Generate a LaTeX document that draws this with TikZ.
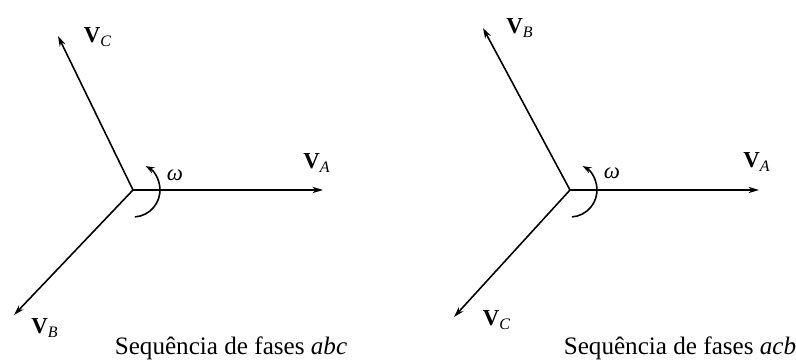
\documentclass[tikz,border=0pt]{standalone}
\usepackage{fontspec}
\setmainfont{Liberation Serif}
\usetikzlibrary{arrows.meta}
\newcommand{\fasor}[1]{\textbf{V}\textsubscript{\textit{#1}}}

\begin{document}
\begin{tikzpicture}[
        vec/.style={draw=black, line width=0.9pt, -{Stealth[length=6pt, width=3.6pt]}},
        rot/.style={draw=black, line width=0.9pt, -{Stealth[length=5pt, width=3.6pt]}},
        lbl/.style={font=\fontsize{13}{15}\selectfont, inner sep=0pt},
        legenda/.style={font=\fontsize{14.3}{16}\selectfont, inner sep=0pt},
      ]
      \useasboundingbox (0,0) rectangle (15.92,7.24);

      % Sequencia abc
      \coordinate (o1) at (2.66,3.44);
      \coordinate (a1) at (6.46,3.44);
      \coordinate (b1) at (0.28,0.94);
      \coordinate (c1) at (1.16,6.52);
      \draw[vec] (o1) -- (a1);
      \draw[vec] (o1) -- (b1);
      \draw[vec] (o1) -- (c1);
      \draw[rot] ([shift={(-86:0.54)}]o1) arc (-86:62:0.54);

      \node[lbl] (va1) at (6.34,3.98) {\fasor{A}};
      \node[lbl] (vb1) at (0.90,0.68) {\fasor{B}};
      \node[lbl] (vc1) at (1.96,6.50) {\fasor{C}};
      \node[lbl] (w1) at (3.50,3.74) {\textit{ω}};
      \node[legenda] (leg1) at (4.62,0.28) {Sequência de fases \textit{abc}};

      % Sequencia acb
      \coordinate (o2) at (11.40,3.44);
      \coordinate (a2) at (15.18,3.44);
      \coordinate (b2) at (9.66,6.68);
      \coordinate (c2) at (9.08,0.90);
      \draw[vec] (o2) -- (a2);
      \draw[vec] (o2) -- (b2);
      \draw[vec] (o2) -- (c2);
      \draw[rot] ([shift={(-86:0.54)}]o2) arc (-86:62:0.54);

      \node[lbl] (va2) at (15.14,4.00) {\fasor{A}};
      \node[lbl] (vb2) at (10.40,6.68) {\fasor{B}};
      \node[lbl] (vc2) at (9.94,0.84) {\fasor{C}};
      \node[lbl] (w2) at (12.24,3.78) {\textit{ω}};
      \node[legenda] (leg2) at (13.60,0.28) {Sequência de fases \textit{acb}};
    \end{tikzpicture}
\end{document}
